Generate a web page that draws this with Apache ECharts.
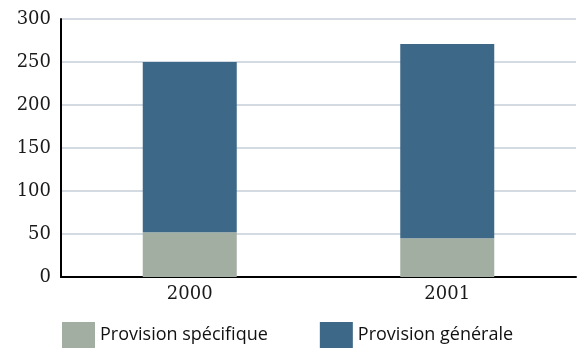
<!DOCTYPE html>
<html>
<head>
<meta charset="utf-8">
<script src="https://cdn.jsdelivr.net/npm/echarts@6/dist/echarts.min.js"></script>
<style>
html, body { margin: 0; padding: 0; background: #fff; }
#chart { width: 579px; height: 348px; }
</style>
</head>
<body>
<div id="chart"></div>
<script>
// categories and values
var years = ['2000', '2001'];
var specifique = [52, 45];
var generale = [198, 226];
var yTicks = [0, 50, 100, 150, 200, 250, 300];

var chart = echarts.init(document.getElementById('chart'));

var option = {
    animation: false,
    grid: {
        left: 61,
        right: 3,
        top: 19,
        bottom: 71
    },
    legend: {
        data: ['Provision spécifique', 'Provision générale'],
        left: 57,
        top: 317,
        itemWidth: 33,
        itemHeight: 26,
        itemGap: 52,
        icon: 'rect',
        textStyle: {
            fontFamily: 'Open Sans',
            fontSize: 18,
            color: '#111'
        }
    },
    xAxis: {
        type: 'category',
        data: years,
        axisLine: { lineStyle: { color: '#000', width: 2 } },
        axisTick: { inside: true, length: 6, lineStyle: { color: '#000', width: 1 } },
        axisLabel: {
            fontFamily: 'DejaVu Serif',
            fontSize: 18,
            color: '#1a1a1a',
            margin: 8
        }
    },
    yAxis: {
        type: 'value',
        min: 0,
        max: 300,
        interval: 50,
        axisLine: { show: true, lineStyle: { color: '#000', width: 2 } },
        axisTick: { show: false },
        axisLabel: {
            fontFamily: 'DejaVu Serif',
            fontSize: 18,
            color: '#1a1a1a',
            margin: 10,
            padding: [4, 0, 0, 0],
            formatter: function (v) { return yTicks.indexOf(v) >= 0 ? String(v) : ''; }
        },
        splitLine: { lineStyle: { color: '#d3dae2', width: 2 } }
    },
    series: [
        {
            name: 'Provision spécifique',
            type: 'bar',
            stack: 'total',
            data: specifique,
            barWidth: 94,
            itemStyle: { color: '#a1aea1' }
        },
        {
            name: 'Provision générale',
            type: 'bar',
            stack: 'total',
            data: generale,
            barWidth: 94,
            itemStyle: { color: '#3e6887' }
        }
    ]
};

chart.setOption(option);

window.onresize = function () {
    chart.resize();
};
</script>
</body>
</html>
